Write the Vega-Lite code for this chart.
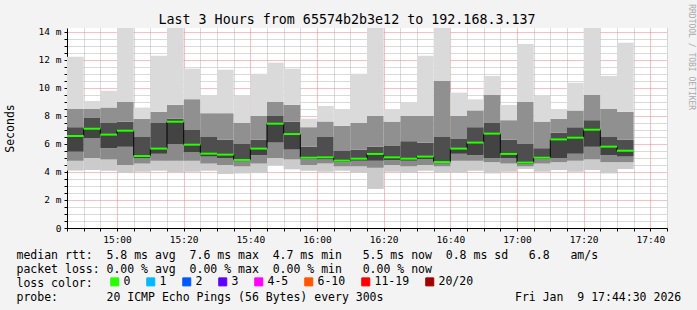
{
  "$schema": "https://vega.github.io/schema/vega-lite/v6.json",
  "width": 600,
  "height": 200,
  "autosize": {"type": "none"},
  "padding": {"left": 67, "top": 28, "right": 30, "bottom": 82},
  "background": "#f3f3f3",
  "config": {
    "font": "DejaVu Sans Mono",
    "view": {"fill": "white", "stroke": null},
    "axis": {"labelFontSize": 9.5, "labelColor": "#000000", "labelPadding": 3, "labelOverlap": false, "labelFlush": false, "gridDash": [1, 1], "gridWidth": 1, "tickSize": 3, "tickColor": "#000000", "domainColor": "#000000", "titleFontWeight": "normal", "titleColor": "#000000", "zindex": 1}
  },
  "title": {"text": "Last 3 Hours from 65574b2b3e12 to 192.168.3.137", "font": "DejaVu Sans Mono", "fontSize": 13.33, "fontWeight": "normal", "color": "#000000", "anchor": "middle", "frame": "group", "dx": -20, "dy": 37, "baseline": "alphabetic", "offset": 4},
  "data": {"values": [
    {"start": 0, "end": 5, "lo": 4.1, "p10": 4.8, "q1": 5.45, "med": 6.57, "q3": 7.2, "p90": 8.5, "hi": 12.24, "loss": "0"},
    {"start": 5, "end": 10, "lo": 4.14, "p10": 5.0, "q1": 6.4, "med": 7.09, "q3": 7.9, "p90": 8.5, "hi": 9.07, "loss": "0"},
    {"start": 10, "end": 15, "lo": 4.09, "p10": 4.9, "q1": 5.7, "med": 6.67, "q3": 7.5, "p90": 8.6, "hi": 9.81, "loss": "0"},
    {"start": 15, "end": 20, "lo": 3.95, "p10": 4.5, "q1": 5.8, "med": 6.95, "q3": 7.6, "p90": 9.0, "hi": 14.3, "loss": "0"},
    {"start": 20, "end": 25, "lo": 4.02, "p10": 4.6, "q1": 5.0, "med": 5.14, "q3": 6.5, "p90": 7.8, "hi": 8.6, "loss": "0"},
    {"start": 25, "end": 30, "lo": 4.09, "p10": 4.8, "q1": 5.3, "med": 5.67, "q3": 7.5, "p90": 8.3, "hi": 12.31, "loss": "0"},
    {"start": 30, "end": 35, "lo": 3.98, "p10": 4.8, "q1": 6.0, "med": 7.59, "q3": 7.8, "p90": 8.8, "hi": 14.3, "loss": "0"},
    {"start": 35, "end": 40, "lo": 4.02, "p10": 4.8, "q1": 5.4, "med": 5.95, "q3": 7.0, "p90": 9.2, "hi": 11.38, "loss": "0"},
    {"start": 40, "end": 45, "lo": 4.09, "p10": 4.6, "q1": 5.1, "med": 5.31, "q3": 6.5, "p90": 8.2, "hi": 9.45, "loss": "0"},
    {"start": 45, "end": 50, "lo": 3.86, "p10": 4.5, "q1": 5.0, "med": 5.24, "q3": 6.3, "p90": 8.2, "hi": 11.31, "loss": "0"},
    {"start": 50, "end": 55, "lo": 3.9, "p10": 4.4, "q1": 4.75, "med": 4.86, "q3": 6.0, "p90": 7.5, "hi": 9.45, "loss": "0"},
    {"start": 55, "end": 60, "lo": 3.92, "p10": 4.6, "q1": 5.2, "med": 5.67, "q3": 6.3, "p90": 8.0, "hi": 11.02, "loss": "0"},
    {"start": 60, "end": 65, "lo": 4.48, "p10": 5.0, "q1": 6.1, "med": 7.45, "q3": 8.0, "p90": 9.0, "hi": 11.81, "loss": "0"},
    {"start": 65, "end": 70, "lo": 4.19, "p10": 4.9, "q1": 5.6, "med": 6.71, "q3": 7.6, "p90": 8.8, "hi": 11.38, "loss": "0"},
    {"start": 70, "end": 75, "lo": 4.09, "p10": 4.5, "q1": 4.9, "med": 5.02, "q3": 5.8, "p90": 7.2, "hi": 7.81, "loss": "0"},
    {"start": 75, "end": 80, "lo": 4.02, "p10": 4.6, "q1": 4.9, "med": 5.05, "q3": 6.5, "p90": 7.6, "hi": 8.71, "loss": "0"},
    {"start": 80, "end": 85, "lo": 4.09, "p10": 4.4, "q1": 4.7, "med": 4.81, "q3": 5.5, "p90": 7.3, "hi": 8.48, "loss": "0"},
    {"start": 85, "end": 90, "lo": 3.95, "p10": 4.4, "q1": 4.8, "med": 4.95, "q3": 5.6, "p90": 7.5, "hi": 11.02, "loss": "0"},
    {"start": 90, "end": 95, "lo": 2.79, "p10": 4.3, "q1": 4.8, "med": 5.29, "q3": 5.8, "p90": 8.0, "hi": 14.3, "loss": "0"},
    {"start": 95, "end": 100, "lo": 4.02, "p10": 4.5, "q1": 4.85, "med": 5.05, "q3": 5.9, "p90": 7.6, "hi": 8.48, "loss": "0"},
    {"start": 100, "end": 105, "lo": 3.95, "p10": 4.4, "q1": 4.8, "med": 4.95, "q3": 6.2, "p90": 8.0, "hi": 8.95, "loss": "0"},
    {"start": 105, "end": 110, "lo": 4.09, "p10": 4.5, "q1": 4.9, "med": 5.1, "q3": 6.1, "p90": 8.0, "hi": 12.31, "loss": "0"},
    {"start": 110, "end": 115, "lo": 3.95, "p10": 4.4, "q1": 4.6, "med": 4.71, "q3": 6.5, "p90": 10.5, "hi": 14.3, "loss": "0"},
    {"start": 115, "end": 120, "lo": 3.95, "p10": 4.8, "q1": 5.3, "med": 5.67, "q3": 6.4, "p90": 8.0, "hi": 9.67, "loss": "0"},
    {"start": 120, "end": 125, "lo": 4.09, "p10": 4.8, "q1": 5.2, "med": 6.1, "q3": 7.2, "p90": 8.4, "hi": 9.19, "loss": "0"},
    {"start": 125, "end": 130, "lo": 3.9, "p10": 4.7, "q1": 5.0, "med": 6.74, "q3": 7.5, "p90": 9.5, "hi": 10.86, "loss": "0"},
    {"start": 130, "end": 135, "lo": 4.02, "p10": 4.6, "q1": 5.0, "med": 5.29, "q3": 6.3, "p90": 7.7, "hi": 8.79, "loss": "0"},
    {"start": 135, "end": 140, "lo": 4.21, "p10": 4.4, "q1": 4.55, "med": 4.67, "q3": 6.0, "p90": 9.0, "hi": 13.14, "loss": "0"},
    {"start": 140, "end": 145, "lo": 4.02, "p10": 4.6, "q1": 4.9, "med": 5.02, "q3": 5.7, "p90": 7.6, "hi": 9.43, "loss": "0"},
    {"start": 145, "end": 150, "lo": 4.14, "p10": 4.7, "q1": 5.0, "med": 6.33, "q3": 6.8, "p90": 7.8, "hi": 8.5, "loss": "0"},
    {"start": 150, "end": 155, "lo": 4.02, "p10": 4.8, "q1": 5.3, "med": 6.45, "q3": 7.2, "p90": 8.4, "hi": 10.38, "loss": "0"},
    {"start": 155, "end": 160, "lo": 4.14, "p10": 4.9, "q1": 5.8, "med": 7.02, "q3": 7.7, "p90": 9.5, "hi": 14.3, "loss": "0"},
    {"start": 160, "end": 165, "lo": 3.9, "p10": 4.7, "q1": 5.2, "med": 5.81, "q3": 6.5, "p90": 8.5, "hi": 10.86, "loss": "0"},
    {"start": 165, "end": 170, "lo": 4.21, "p10": 4.7, "q1": 5.1, "med": 5.52, "q3": 6.3, "p90": 8.3, "hi": 13.24, "loss": "0"}
  ]},
  "encoding": {
    "x": {
      "field": "start", "type": "quantitative",
      "scale": {"domain": [0, 180], "nice": false, "zero": false},
      "axis": {
        "title": ["median\u00a0rtt:\u00a0\u00a05.8\u00a0ms\u00a0avg\u00a0\u00a07.6\u00a0ms\u00a0max\u00a0\u00a04.7\u00a0ms\u00a0min\u00a0\u00a0\u00a05.5\u00a0ms\u00a0now\u00a0\u00a00.8\u00a0ms\u00a0sd\u00a0\u00a0\u00a06.8\u00a0\u00a0\u00a0am/s", "packet\u00a0loss:\u00a00.00\u00a0%\u00a0avg\u00a0\u00a00.00\u00a0%\u00a0max\u00a0\u00a00.00\u00a0%\u00a0min\u00a0\u00a0\u00a00.00\u00a0%\u00a0now", "loss\u00a0color:", "probe:\u00a0\u00a0\u00a0\u00a0\u00a0\u00a0\u00a020\u00a0ICMP\u00a0Echo\u00a0Pings\u00a0(56\u00a0Bytes)\u00a0every\u00a0300s\u00a0\u00a0\u00a0\u00a0\u00a0\u00a0\u00a0\u00a0\u00a0\u00a0\u00a0\u00a0\u00a0\u00a0\u00a0\u00a0\u00a0\u00a0\u00a0Fri\u00a0Jan\u00a0\u00a09\u00a017:44:30\u00a02026"],
        "titleFont": "DejaVu Sans Mono", "titleFontSize": 11.5,
        "titleAnchor": "start", "titleAlign": "left", "titleBaseline": "alphabetic", "titleX": -51, "titleY": 30, "titleLineHeight": 14,
        "values": [0, 5, 10, 15, 20, 25, 30, 35, 40, 45, 50, 55, 60, 65, 70, 75, 80, 85, 90, 95, 100, 105, 110, 115, 120, 125, 130, 135, 140, 145, 150, 155, 160, 165, 170, 175, 180],
        "labelExpr": "(datum.value + 45) % 20 == 0 ? (floor((885 + datum.value) / 60) + ':' + ((885 + datum.value) % 60 == 0 ? '00' : '' + ((885 + datum.value) % 60))) : ''",
        "grid": true,
        "gridColor": {"condition": {"test": "(datum.value + 45) % 20 == 0", "value": "#f08080"}, "value": "#b4b4b4"}
      }
    }
  },
  "layer": [
    {"mark": {"type": "rect", "clip": true, "color": "#cbcbcb"},
     "encoding": {"x2": {"field": "end"},
       "y": {"field": "lo", "type": "quantitative", "scale": {"domain": [0, 14.2857], "nice": false, "zero": true},
         "axis": {"title": "Seconds", "titleFontSize": 11.5, "titleX": -57, "titleY": 100, "titleAlign": "center", "titleBaseline": "middle", "titleAngle": 270, "values": [0, 0.5, 1, 1.5, 2, 2.5, 3, 3.5, 4, 4.5, 5, 5.5, 6, 6.5, 7, 7.5, 8, 8.5, 9, 9.5, 10, 10.5, 11, 11.5, 12, 12.5, 13, 13.5, 14], "labelExpr": "datum.value % 2 == 0 ? (datum.value == 0 ? '0' : datum.value + ' m') : ''", "grid": true, "gridColor": {"condition": {"test": "datum.value % 2 == 0", "value": "#f08080"}, "value": "#b4b4b4"}}},
       "y2": {"field": "p10"}}},
    {"mark": {"type": "rect", "clip": true, "color": "#8a8a8a"},
     "encoding": {"x2": {"field": "end"},
       "y": {"field": "p10", "type": "quantitative",
         "axis": {"title": "Seconds", "titleFontSize": 11.5, "titleX": -57, "titleY": 100, "titleAlign": "center", "titleBaseline": "middle", "titleAngle": 270, "values": [0, 0.5, 1, 1.5, 2, 2.5, 3, 3.5, 4, 4.5, 5, 5.5, 6, 6.5, 7, 7.5, 8, 8.5, 9, 9.5, 10, 10.5, 11, 11.5, 12, 12.5, 13, 13.5, 14], "labelExpr": "datum.value % 2 == 0 ? (datum.value == 0 ? '0' : datum.value + ' m') : ''", "grid": true, "gridColor": {"condition": {"test": "datum.value % 2 == 0", "value": "#f08080"}, "value": "#b4b4b4"}}},
       "y2": {"field": "q1"}}},
    {"mark": {"type": "rect", "clip": true, "color": "#434343"},
     "encoding": {"x2": {"field": "end"},
       "y": {"field": "q1", "type": "quantitative",
         "axis": {"title": "Seconds", "titleFontSize": 11.5, "titleX": -57, "titleY": 100, "titleAlign": "center", "titleBaseline": "middle", "titleAngle": 270, "values": [0, 0.5, 1, 1.5, 2, 2.5, 3, 3.5, 4, 4.5, 5, 5.5, 6, 6.5, 7, 7.5, 8, 8.5, 9, 9.5, 10, 10.5, 11, 11.5, 12, 12.5, 13, 13.5, 14], "labelExpr": "datum.value % 2 == 0 ? (datum.value == 0 ? '0' : datum.value + ' m') : ''", "grid": true, "gridColor": {"condition": {"test": "datum.value % 2 == 0", "value": "#f08080"}, "value": "#b4b4b4"}}},
       "y2": {"field": "med"}}},
    {"mark": {"type": "rect", "clip": true, "color": "#4e4e4e"},
     "encoding": {"x2": {"field": "end"},
       "y": {"field": "med", "type": "quantitative",
         "axis": {"title": "Seconds", "titleFontSize": 11.5, "titleX": -57, "titleY": 100, "titleAlign": "center", "titleBaseline": "middle", "titleAngle": 270, "values": [0, 0.5, 1, 1.5, 2, 2.5, 3, 3.5, 4, 4.5, 5, 5.5, 6, 6.5, 7, 7.5, 8, 8.5, 9, 9.5, 10, 10.5, 11, 11.5, 12, 12.5, 13, 13.5, 14], "labelExpr": "datum.value % 2 == 0 ? (datum.value == 0 ? '0' : datum.value + ' m') : ''", "grid": true, "gridColor": {"condition": {"test": "datum.value % 2 == 0", "value": "#f08080"}, "value": "#b4b4b4"}}},
       "y2": {"field": "q3"}}},
    {"mark": {"type": "rect", "clip": true, "color": "#909090"},
     "encoding": {"x2": {"field": "end"},
       "y": {"field": "q3", "type": "quantitative",
         "axis": {"title": "Seconds", "titleFontSize": 11.5, "titleX": -57, "titleY": 100, "titleAlign": "center", "titleBaseline": "middle", "titleAngle": 270, "values": [0, 0.5, 1, 1.5, 2, 2.5, 3, 3.5, 4, 4.5, 5, 5.5, 6, 6.5, 7, 7.5, 8, 8.5, 9, 9.5, 10, 10.5, 11, 11.5, 12, 12.5, 13, 13.5, 14], "labelExpr": "datum.value % 2 == 0 ? (datum.value == 0 ? '0' : datum.value + ' m') : ''", "grid": true, "gridColor": {"condition": {"test": "datum.value % 2 == 0", "value": "#f08080"}, "value": "#b4b4b4"}}},
       "y2": {"field": "p90"}}},
    {"mark": {"type": "rect", "clip": true, "color": "#dadada"},
     "encoding": {"x2": {"field": "end"},
       "y": {"field": "p90", "type": "quantitative",
         "axis": {"title": "Seconds", "titleFontSize": 11.5, "titleX": -57, "titleY": 100, "titleAlign": "center", "titleBaseline": "middle", "titleAngle": 270, "values": [0, 0.5, 1, 1.5, 2, 2.5, 3, 3.5, 4, 4.5, 5, 5.5, 6, 6.5, 7, 7.5, 8, 8.5, 9, 9.5, 10, 10.5, 11, 11.5, 12, 12.5, 13, 13.5, 14], "labelExpr": "datum.value % 2 == 0 ? (datum.value == 0 ? '0' : datum.value + ' m') : ''", "grid": true, "gridColor": {"condition": {"test": "datum.value % 2 == 0", "value": "#f08080"}, "value": "#b4b4b4"}}},
       "y2": {"field": "hi"}}},
    {"mark": {"type": "line", "interpolate": "step-after", "color": "#000000", "strokeWidth": 1},
     "encoding": {
       "y": {"field": "med", "type": "quantitative",
         "axis": {"title": "Seconds", "titleFontSize": 11.5, "titleX": -57, "titleY": 100, "titleAlign": "center", "titleBaseline": "middle", "titleAngle": 270, "values": [0, 0.5, 1, 1.5, 2, 2.5, 3, 3.5, 4, 4.5, 5, 5.5, 6, 6.5, 7, 7.5, 8, 8.5, 9, 9.5, 10, 10.5, 11, 11.5, 12, 12.5, 13, 13.5, 14], "labelExpr": "datum.value % 2 == 0 ? (datum.value == 0 ? '0' : datum.value + ' m') : ''", "grid": true, "gridColor": {"condition": {"test": "datum.value % 2 == 0", "value": "#f08080"}, "value": "#b4b4b4"}}}}},
    {"mark": {"type": "rule", "strokeWidth": 2},
     "encoding": {"x2": {"field": "end"},
       "y": {"field": "med", "type": "quantitative",
         "axis": {"title": "Seconds", "titleFontSize": 11.5, "titleX": -57, "titleY": 100, "titleAlign": "center", "titleBaseline": "middle", "titleAngle": 270, "values": [0, 0.5, 1, 1.5, 2, 2.5, 3, 3.5, 4, 4.5, 5, 5.5, 6, 6.5, 7, 7.5, 8, 8.5, 9, 9.5, 10, 10.5, 11, 11.5, 12, 12.5, 13, 13.5, 14], "labelExpr": "datum.value % 2 == 0 ? (datum.value == 0 ? '0' : datum.value + ' m') : ''", "grid": true, "gridColor": {"condition": {"test": "datum.value % 2 == 0", "value": "#f08080"}, "value": "#b4b4b4"}}},
       "color": {"field": "loss", "type": "nominal",
         "scale": {"domain": ["0", "1", "2", "3", "4-5", "6-10", "11-19", "20/20"], "range": ["#26ff00", "#00b8ff", "#0059ff", "#5e00ff", "#ff00ff", "#ff5500", "#ff0000", "#a10000"]},
         "legend": {"orient": "none", "legendX": 42, "legendY": 248, "direction": "horizontal", "title": null, "padding": 0,
           "symbolType": "square", "symbolSize": 64, "symbolStrokeColor": "#000000", "symbolStrokeWidth": 1, "symbolOpacity": 1,
           "labelFont": "DejaVu Sans Mono", "labelFontSize": 11.5, "labelColor": "#000000", "labelOffset": 3, "columnPadding": 13, "labelBaseline": "middle",
           "encode": {"symbols": {"update": {"fill": {"scale": "color", "field": "value"}, "stroke": {"value": "#000000"}, "strokeWidth": {"value": 1}}}}}}}},
    {"data": {"values": [{"start": 187.2, "v": 12.2, "label": "RRDTOOL / TOBI OETIKER"}]},
     "mark": {"type": "text", "angle": 90, "fontSize": 8, "color": "#aaaaaa", "font": "DejaVu Sans Mono", "align": "center", "baseline": "middle"},
     "encoding": {
       "y": {"field": "v", "type": "quantitative",
         "axis": {"title": "Seconds", "titleFontSize": 11.5, "titleX": -57, "titleY": 100, "titleAlign": "center", "titleBaseline": "middle", "titleAngle": 270, "values": [0, 0.5, 1, 1.5, 2, 2.5, 3, 3.5, 4, 4.5, 5, 5.5, 6, 6.5, 7, 7.5, 8, 8.5, 9, 9.5, 10, 10.5, 11, 11.5, 12, 12.5, 13, 13.5, 14], "labelExpr": "datum.value % 2 == 0 ? (datum.value == 0 ? '0' : datum.value + ' m') : ''", "grid": true, "gridColor": {"condition": {"test": "datum.value % 2 == 0", "value": "#f08080"}, "value": "#b4b4b4"}}},
       "text": {"field": "label"}}}
  ]
}
